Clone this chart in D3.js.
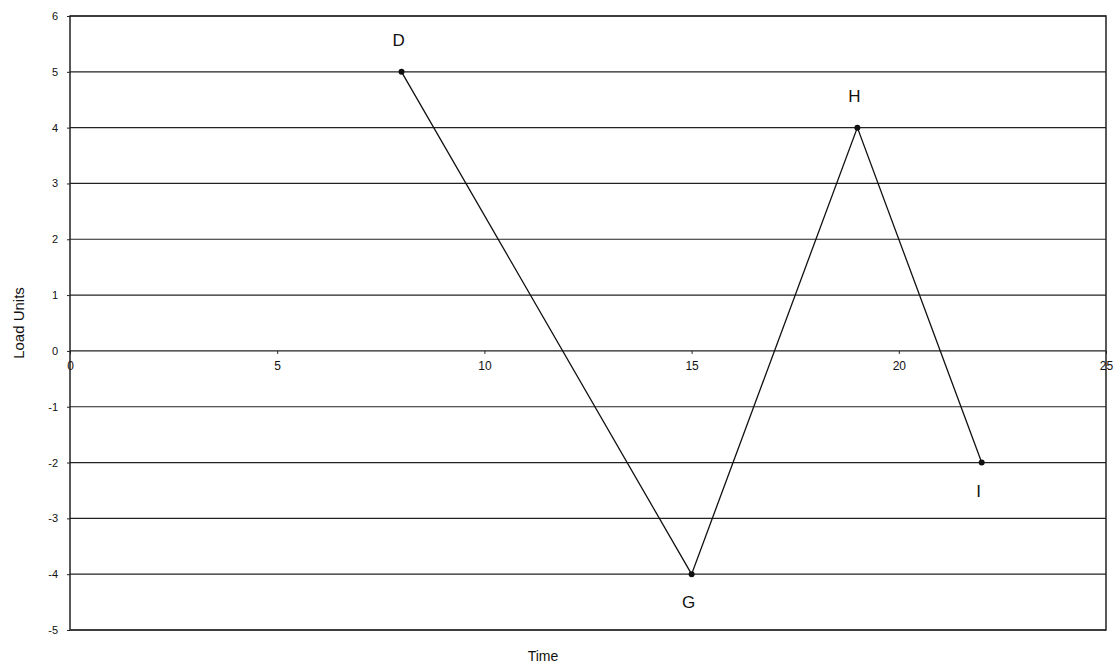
<!DOCTYPE html>
<html>
<head>
<meta charset="utf-8">
<script src="https://cdn.jsdelivr.net/npm/d3@7"></script>
<style>
  body { margin: 0; background: #fff; }
  text { font-family: Arial, "Liberation Sans", sans-serif; fill: #111; }
</style>
</head>
<body>
<script>
// data
const times = [8, 15, 19, 22];
const loads = [5, -4, 4, -2];
const pointLabels = ["D", "G", "H", "I"];
const xTicks = [0, 5, 10, 15, 20, 25];
const yTicks = [6, 5, 4, 3, 2, 1, 0, -1, -2, -3, -4, -5];

const W = 1118, H = 668;
const margin = { top: 16, right: 12, bottom: 38, left: 70 };

const svg = d3.select("body").append("svg")
    .attr("width", W)
    .attr("height", H);

const x = d3.scaleLinear().domain([0, 25]).range([margin.left, W - margin.right]);
const y = d3.scaleLinear().domain([-5, 6]).range([H - margin.bottom, margin.top]);

// horizontal gridlines
svg.append("g")
    .selectAll("line")
    .data(yTicks)
    .join("line")
    .attr("x1", x(0)).attr("x2", x(25))
    .attr("y1", d => y(d)).attr("y2", d => y(d))
    .attr("stroke", "#222")
    .attr("stroke-width", 1.2);

// plot frame
svg.append("rect")
    .attr("x", x(0)).attr("y", y(6))
    .attr("width", x(25) - x(0))
    .attr("height", y(-5) - y(6))
    .attr("fill", "none")
    .attr("stroke", "#222")
    .attr("stroke-width", 1.5);

// y axis, plain hyphen for negatives like the original
const yAxis = svg.append("g")
    .attr("transform", `translate(${x(0)},0)`)
    .call(d3.axisLeft(y).tickValues(yTicks).tickFormat(d => String(d)).tickSize(3).tickPadding(9));
yAxis.select(".domain").remove();
yAxis.selectAll("line").attr("stroke", "#222");
yAxis.selectAll("text").attr("font-size", 11).attr("fill", "#111")
    .style("font-family", "Arial, 'Liberation Sans', sans-serif");

// x axis sitting on the zero line
const xAxis = svg.append("g")
    .attr("transform", `translate(0,${y(0)})`)
    .call(d3.axisBottom(x).tickValues(xTicks).tickFormat(d => String(d)).tickSize(3).tickPadding(8));
xAxis.select(".domain").remove();
xAxis.selectAll("line").attr("stroke", "#222");
xAxis.selectAll("text").attr("font-size", 12).attr("fill", "#111")
    .style("font-family", "Arial, 'Liberation Sans', sans-serif");

// the load line
const pts = times.map((t, i) => ({ t: t, v: loads[i], label: pointLabels[i] }));

svg.append("path")
    .datum(pts)
    .attr("fill", "none")
    .attr("stroke", "#111")
    .attr("stroke-width", 1.3)
    .attr("d", d3.line().x(d => x(d.t)).y(d => y(d.v)));

svg.append("g")
    .selectAll("circle")
    .data(pts)
    .join("circle")
    .attr("cx", d => x(d.t))
    .attr("cy", d => y(d.v))
    .attr("r", 3)
    .attr("fill", "#111");

// point labels: above for peaks, below for troughs
svg.append("g")
    .selectAll("text")
    .data(pts)
    .join("text")
    .attr("x", d => x(d.t) - 3)
    .attr("y", d => d.label === "D" || d.label === "H" ? y(d.v) - 26 : y(d.v) + 34)
    .attr("text-anchor", "middle")
    .attr("font-size", 17)
    .text(d => d.label);

// axis titles
svg.append("text")
    .attr("transform", `translate(24,${(y(6) + y(-5)) / 2}) rotate(-90)`)
    .attr("text-anchor", "middle")
    .attr("font-size", 15)
    .text("Load Units");

svg.append("text")
    .attr("x", 543)
    .attr("y", 661)
    .attr("text-anchor", "middle")
    .attr("font-size", 14)
    .text("Time");
</script>
</body>
</html>
